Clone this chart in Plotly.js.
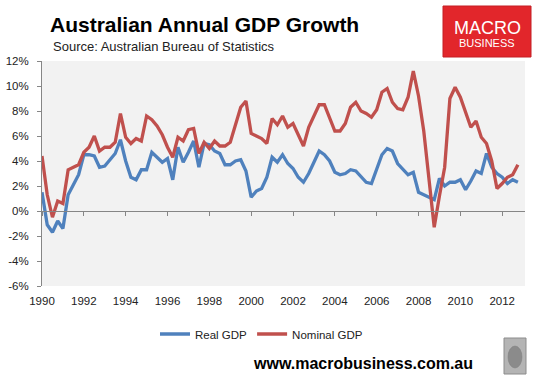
<!DOCTYPE html>
<html>
<head>
<meta charset="utf-8">
<script src="https://cdn.plot.ly/plotly-3.0.1.min.js"></script>
<style>
  html, body { margin: 0; padding: 0; background: #fff; }
  #chart { width: 544px; height: 379px; }
</style>
</head>
<body>
<div id="chart"></div>
<script>
// ---- Data (annual % growth, quarterly observations from 1990 Q1) ----
const startYear = 1990;
const realGDP = [
  1.5, -1.1, -1.7, -0.8, -1.4, 1.3, 2.1, 2.9,
  4.5, 4.5, 4.4, 3.5, 3.6, 4.1, 4.6, 5.7,
  4.0, 2.7, 2.5, 3.3, 3.3, 4.7, 4.3, 3.9,
  4.2, 2.5, 5.1, 3.9, 4.7, 5.6, 3.5, 5.4,
  5.3, 4.8, 4.6, 3.7, 3.7, 4.0, 4.1, 3.2,
  1.1, 1.6, 1.8, 2.7, 4.3, 3.9, 4.5, 3.8,
  3.4, 2.7, 2.3, 3.0, 3.9, 4.8, 4.5, 4.0,
  3.1, 2.9, 3.0, 3.3, 3.2, 2.7, 2.3, 2.2,
  3.3, 4.5, 5.0, 4.8, 3.8, 3.3, 2.9, 3.1,
  1.5, 1.3, 1.1, 0.9, 2.6, 2.0, 2.3, 2.3,
  2.5, 1.7, 2.4, 3.2, 3.0, 4.6, 3.5, 3.0,
  2.7, 2.2, 2.5, 2.3
];
const nominalGDP = [
  4.4, 1.3, -0.5, 0.8, 0.6, 3.3, 3.5, 3.7,
  4.7, 5.1, 6.0, 4.8, 5.1, 5.1, 5.5, 7.8,
  5.9, 5.4, 5.8, 5.6, 7.6, 7.3, 6.8, 6.1,
  5.1, 4.3, 5.9, 5.6, 6.5, 6.6, 4.6, 5.5,
  5.0, 5.6, 5.2, 5.2, 5.5, 7.0, 8.3, 8.8,
  6.2, 6.0, 5.8, 5.4, 7.4, 6.9, 7.6, 6.7,
  7.0, 6.1, 5.2, 6.7, 7.6, 8.5, 8.5, 7.4,
  6.4, 6.4, 7.0, 8.3, 8.7, 8.0, 7.8, 7.5,
  8.1, 9.5, 9.8, 8.7, 8.2, 8.1, 9.1, 11.2,
  9.2, 6.4, 2.4, -1.3, 1.2, 3.5, 9.0, 9.9,
  9.1, 7.9, 6.7, 7.2, 5.9, 5.4, 4.0, 1.8,
  2.2, 2.7, 2.9, 3.7
];
const seriesNames = ["Real GDP", "Nominal GDP"];
const xTickVals = [1990, 1992, 1994, 1996, 1998, 2000, 2002, 2004, 2006, 2008, 2010, 2012];
const xTickText = ["1990", "1992", "1994", "1996", "1998", "2000", "2002", "2004", "2006", "2008", "2010", "2012"];
const yTickVals = [-6, -4, -2, 0, 2, 4, 6, 8, 10, 12];
const yTickText = ["-6%", "-4%", "-2%", "0%", "2%", "4%", "6%", "8%", "10%", "12%"];

// quarter positions on the date axis
const quarters = realGDP.map((_, i) => startYear + i / 4);

const FONT = "Liberation Sans, Arial, sans-serif";
const axisGray = "#868686";

const traces = [
  {
    x: quarters, y: realGDP, name: seriesNames[0], type: "scatter", mode: "lines",
    line: { color: "#4F81BD", width: 3.3 }, hoverinfo: "x+y"
  },
  {
    x: quarters, y: nominalGDP, name: seriesNames[1], type: "scatter", mode: "lines",
    line: { color: "#C0504D", width: 3.3 }, hoverinfo: "x+y"
  },
  { // carrier for the axis drawn through 0%
    x: [null], y: [null], xaxis: "x2", yaxis: "y", showlegend: false, hoverinfo: "skip",
    type: "scatter", mode: "lines"
  }
];

const xRange = [1990, 2013.09];

const layout = {
  width: 544, height: 379,
  margin: { l: 42, r: 19, t: 61, b: 93 },
  paper_bgcolor: "#ffffff",
  plot_bgcolor: "#F2F2F2",
  font: { family: FONT, size: 11, color: "#222" },
  title: {
    text: "<b>Australian Annual GDP Growth</b>",
    font: { family: FONT, size: 21, color: "#000" },
    xref: "container", yref: "container",
    x: 50 / 544, xanchor: "left",
    y: 1 - 25 / 379, yanchor: "middle"
  },
  xaxis: {
    range: xRange, type: "linear",
    tickvals: xTickVals, ticktext: xTickText,
    showline: false, showgrid: false, zeroline: false, ticks: "",
    ticklabelstandoff: 6,
    tickfont: { family: FONT, size: 11.5, color: "#222" },
    fixedrange: true
  },
  xaxis2: {
    overlaying: "x", anchor: "free", position: 1 / 3, side: "bottom",
    range: xRange, type: "linear",
    tickvals: xTickVals, showticklabels: false,
    showline: true, linecolor: axisGray, linewidth: 1,
    ticks: "outside", ticklen: 4, tickcolor: axisGray, tickwidth: 1,
    showgrid: false, zeroline: false, fixedrange: true
  },
  yaxis: {
    range: [-6, 12],
    tickvals: yTickVals, ticktext: yTickText,
    showline: true, linecolor: axisGray, linewidth: 1,
    ticks: "outside", ticklen: 4, tickcolor: axisGray,
    ticklabelstandoff: 6,
    showgrid: false, zeroline: false,
    tickfont: { family: FONT, size: 11.5, color: "#222" },
    fixedrange: true
  },
  showlegend: true,
  legend: {
    orientation: "h",
    x: (155 - 42) / 483, xanchor: "left",
    y: (286 - 334) / 225, yanchor: "middle",
    font: { family: FONT, size: 11.5, color: "#222" },
    bgcolor: "rgba(0,0,0,0)",
    itemwidth: 30,
    traceorder: "normal"
  },
  shapes: [
    { // logo box
      type: "rect", xref: "paper", yref: "paper",
      x0: (443 - 42) / 483, x1: (531 - 42) / 483,
      y0: (286 - 57) / 225, y1: (286 - 6) / 225,
      fillcolor: "#E2262B", line: { color: "#C41E24", width: 1 }
    },
    { // small picture in the corner
      type: "rect", xref: "paper", yref: "paper",
      x0: (504 - 42) / 483, x1: (526 - 42) / 483,
      y0: (286 - 374) / 225, y1: (286 - 338) / 225,
      fillcolor: "#B4B4B4", line: { color: "#8C8C8C", width: 1 }
    },
    {
      type: "circle", xref: "paper", yref: "paper",
      x0: (508 - 42) / 483, x1: (522 - 42) / 483,
      y0: (286 - 368) / 225, y1: (286 - 346) / 225,
      fillcolor: "#7A7A7A", line: { color: "#666", width: 0.5 }, opacity: 0.7
    }
  ],
  annotations: [
    {
      text: "Source: Australian Bureau of Statistics",
      xref: "paper", yref: "paper",
      x: (51 - 42) / 483, y: (286 - 46) / 225,
      xanchor: "left", yanchor: "middle", showarrow: false,
      font: { family: FONT, size: 13, color: "#222" }
    },
    {
      text: "MACRO",
      xref: "paper", yref: "paper",
      x: (487 - 42) / 483, y: (286 - 28) / 225,
      xanchor: "center", yanchor: "middle", showarrow: false,
      font: { family: FONT, size: 18, color: "#ffffff" }
    },
    {
      text: "BUSINESS",
      xref: "paper", yref: "paper",
      x: (487 - 42) / 483, y: (286 - 43) / 225,
      xanchor: "center", yanchor: "middle", showarrow: false,
      font: { family: FONT, size: 11, color: "#ffffff" }
    },
    {
      text: "<b>www.macrobusiness.com.au</b>",
      xref: "paper", yref: "paper",
      x: (362.5 - 42) / 483, y: (286 - 363) / 225,
      xanchor: "center", yanchor: "middle", showarrow: false,
      font: { family: FONT, size: 16, color: "#000" }
    }
  ]
};

Plotly.newPlot("chart", traces, layout, { displayModeBar: false, staticPlot: true });
</script>
</body>
</html>
